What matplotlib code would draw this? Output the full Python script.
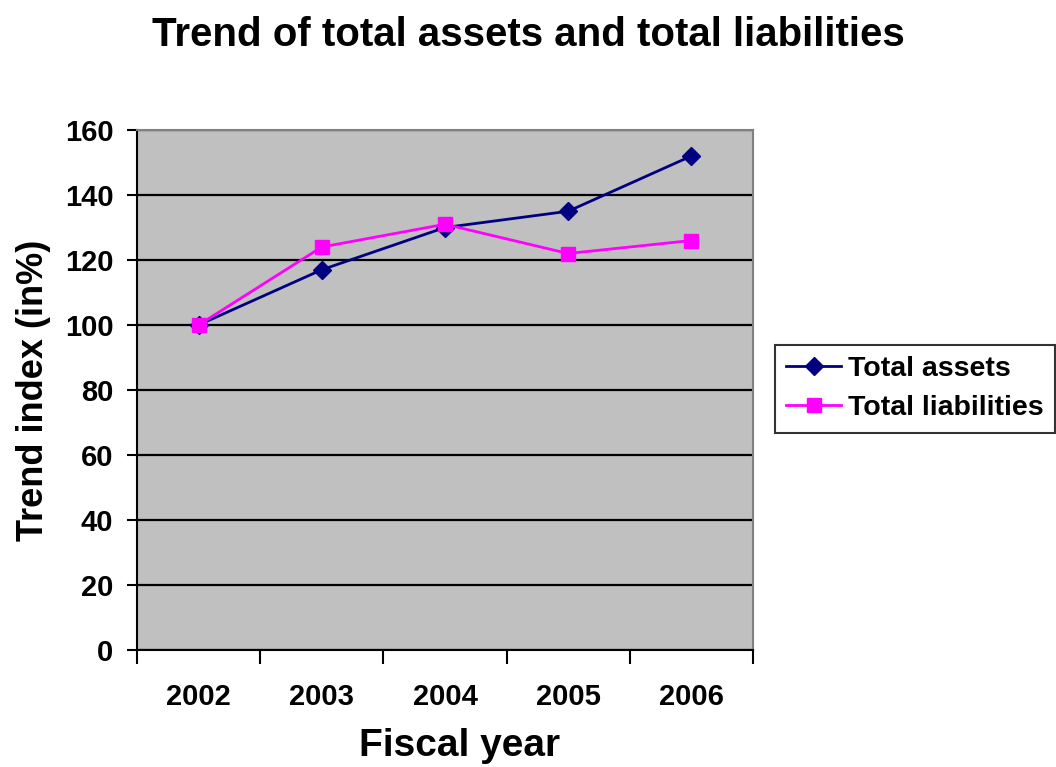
import matplotlib
matplotlib.use('Agg')
import matplotlib.pyplot as plt
from matplotlib.ticker import FixedLocator, NullFormatter

plt.rcParams['font.family'] = ['Liberation Sans', 'DejaVu Sans']
plt.rcParams['font.weight'] = 'bold'

years = ['2002', '2003', '2004', '2005', '2006']
total_assets = [100, 117, 130, 135, 152]
total_liabilities = [100, 124, 131, 122, 126]
y_ticks = [0, 20, 40, 60, 80, 100, 120, 140, 160]

fig = plt.figure(figsize=(10.56, 7.67), dpi=100)
ax = fig.add_axes([0.1297, 0.1525, 0.5833, 0.678])
ax.set_facecolor('#C0C0C0')

x = list(range(len(years)))
ax.plot(x, total_assets, '-D', color='#000080', lw=2, ms=9.5, label='Total assets', zorder=3)
ax.plot(x, total_liabilities, '-s', color='#FF00FF', lw=2, ms=10, label='Total liabilities', zorder=3)

ax.set_xlim(-0.5, len(years) - 0.5)
ax.set_ylim(0, 160)
ax.set_yticks(y_ticks)
ax.yaxis.grid(True, color='black', lw=1.6)
ax.set_axisbelow(True)

# category boundaries get tick marks, labels sit at centres
ax.xaxis.set_major_locator(FixedLocator([i - 0.5 for i in range(len(years) + 1)]))
ax.xaxis.set_major_formatter(NullFormatter())
ax.xaxis.set_minor_locator(FixedLocator(x))
ax.set_xticklabels(years, minor=True)
ax.tick_params(axis='x', which='major', length=10, width=1.5, direction='out')
ax.tick_params(axis='x', which='minor', length=0, pad=24, labelsize=21)
ax.tick_params(axis='y', length=7, width=1.5, direction='out', labelsize=21, pad=10)

for side in ['left', 'bottom']:
    ax.spines[side].set_color('black')
    ax.spines[side].set_linewidth(1.5)
for side in ['top', 'right']:
    ax.spines[side].set_color('#808080')
    ax.spines[side].set_linewidth(1.5)

ax.set_xlabel('Fiscal year', fontsize=28, fontweight='bold')
ax.xaxis.set_label_coords(0.524, -0.15)
ax.set_ylabel('Trend index (in%)', fontsize=26, fontweight='bold', labelpad=10)
fig.text(0.5, 0.955, 'Trend of total assets and total liabilities', ha='center', va='center',
         fontsize=29, fontweight='bold')

leg = ax.legend(loc='center left', bbox_to_anchor=(0.734, 0.493), bbox_transform=fig.transFigure,
                fontsize=20.5, frameon=True, fancybox=False, edgecolor='black',
                handlelength=1.9, handletextpad=0.25, borderpad=0.4, labelspacing=0.45,
                borderaxespad=0)
leg.get_frame().set_linewidth(1.5)
for t in leg.get_texts():
    t.set_fontweight('bold')

plt.savefig('out.png', dpi=100)
